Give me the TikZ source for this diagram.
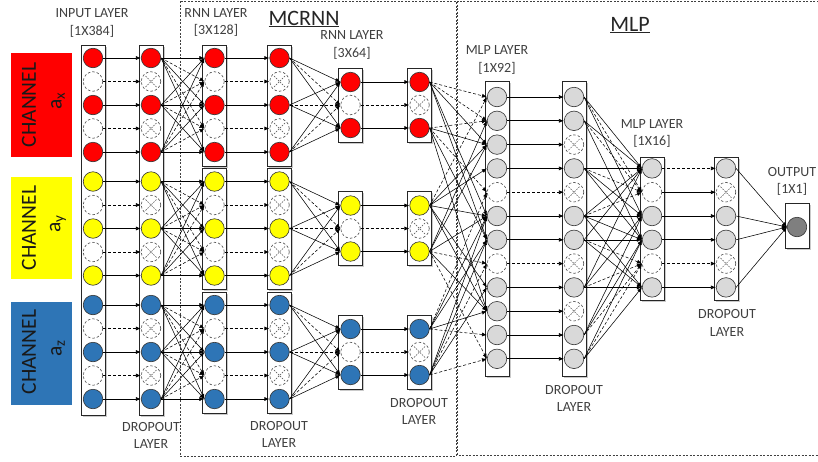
\documentclass[tikz,border=0pt]{standalone}
\usepackage{fontspec}
\setmainfont{Carlito}
\usetikzlibrary{arrows.meta,shadows,calc}
\definecolor{cred}{HTML}{FF0000}
\definecolor{cyel}{HTML}{FFFF00}
\definecolor{cblu}{HTML}{2E75B6}
\definecolor{cgry}{HTML}{D9D9D9}
\definecolor{cdk}{HTML}{7F7F7F}
\definecolor{ctxt}{HTML}{404040}
\tikzset{
 colbox/.style={draw=black!85, line width=0.8pt, fill=white, drop shadow={shadow xshift=1.5pt, shadow yshift=-1.5pt, opacity=0.35, fill=black!60}, minimum width=24pt, inner sep=0pt},
 neuron/.style={circle, draw=black!80, line width=0.6pt, minimum size=19.5pt, inner sep=0pt},
 offn/.style={circle, draw=black!70, line width=0.6pt, dash pattern=on 2.5pt off 2pt, minimum size=19.5pt, inner sep=0pt},
 xn/.style={offn, path picture={\draw[black!70, line width=0.5pt, dash pattern=on 1.6pt off 1.2pt] ($(path picture bounding box.center)+(-5.5,-5.5)$) -- ($(path picture bounding box.center)+(5.5,5.5)$) ($(path picture bounding box.center)+(-5.5,5.5)$) -- ($(path picture bounding box.center)+(5.5,-5.5)$);}},
 arr/.style={-{Latex[length=5pt,width=4pt]}, line width=0.7pt, black},
 mesh/.style={-{Latex[length=5pt,width=4pt]}, line width=0.55pt, black},
 dsh/.style={dash pattern=on 3pt off 2pt},
 lab/.style={text=ctxt, font=\fontsize{14}{17.5}\selectfont, align=center},
 frame/.style={draw=black!75, line width=0.8pt, dash pattern=on 2pt off 1.5pt},
 chtxt/.style={rotate=90, font=\fontsize{21.5}{24}\selectfont, text=black!90},
 chbox/.style={minimum width=61pt, inner sep=0pt},
}
\begin{document}
\begin{tikzpicture}[x=1pt,y=-1pt]
\useasboundingbox (0,0) rectangle (818,461);
% frames
\draw[frame] (180,1) rectangle (456,456);
\draw[frame] (822,1.5) -- (457.5,1.5) -- (457.5,455) -- (822,455);
\node[font=\fontsize{22}{24}\selectfont, text=black!85] (tmc) at (304,19) {\underline{MCRNN}};
\node[font=\fontsize{22}{24}\selectfont, text=black!85] (tmlp) at (630,25) {\underline{MLP}};
% channels
\node[chbox, fill=cred, minimum height=104pt] (chx) at (41.5,105) {};
\node[chbox, fill=cyel, minimum height=102pt] (chy) at (41.5,228) {};
\node[chbox, fill=cblu, minimum height=103pt] (chz) at (41.5,353.5) {};
\node[chtxt] (chxt) at (29,105) {CHANNEL};
\node[chtxt] (chxs) at (58,101) {a\textsubscript{x}};
\node[chtxt] (chyt) at (29,228) {CHANNEL};
\node[chtxt] (chys) at (58,224) {a\textsubscript{y}};
\node[chtxt] (chzt) at (29,352) {CHANNEL};
\node[chtxt] (chzs) at (58,348) {a\textsubscript{z}};
% labels
\node[lab] (lin) at (92,23) {INPUT LAYER\\{[1X384]}};
\node[lab] (lr1) at (216,22.5) {RNN LAYER\\{[3X128]}};
\node[lab] (lr2) at (352,45) {RNN LAYER\\{[3X64]}};
\node[lab] (lm1) at (497,60) {MLP LAYER\\{[1X92]}};
\node[lab] (lm2) at (652,133.5) {MLP LAYER\\{[1X16]}};
\node[lab] (lout) at (792,181.5) {OUTPUT\\{[1X1]}};
\node[lab] (ld1) at (151,435.5) {DROPOUT\\LAYER};
\node[lab] (ld2) at (279,434.5) {DROPOUT\\LAYER};
\node[lab] (ld3) at (419,411.5) {DROPOUT\\LAYER};
\node[lab] (ld4) at (574,398.5) {DROPOUT\\LAYER};
\node[lab] (ld5) at (727,323) {DROPOUT\\LAYER};
% column boxes
\node[colbox, minimum height=370pt] (bin) at (93,230) {};
\node[colbox, minimum height=370pt] (bd1) at (151,230) {};
\foreach \g/\m in {1/105,2/228.5,3/352} {
 \node[colbox, minimum height=121pt] (br1-\g) at (214.5,\m+0.5) {};
 \node[colbox, minimum height=121pt] (bd2-\g) at (279.5,\m+0.5) {};
 \node[colbox, minimum height=74pt] (br2-\g) at (350.5,\m) {};
 \node[colbox, minimum height=74pt] (bd3-\g) at (419.5,\m) {};
}
\node[colbox, minimum height=295pt] (bm1) at (497,228.5) {};
\node[colbox, minimum height=295pt] (bd4) at (574,228.5) {};
\node[colbox, minimum height=143pt] (bm2) at (652,228.5) {};
\node[colbox, minimum height=143pt] (bd5) at (726,228.5) {};
\node[colbox, minimum height=45pt] (bout) at (797,226) {};
% neurons of the three channels
\foreach \g/\c/\m in {1/cred/105,2/cyel/228.5,3/cblu/352} {
 \foreach \i in {1,...,5} {
  \pgfmathsetmacro\yy{\m+(\i-3)*23.5}
  \ifodd\i\relax
   \node[neuron,fill=\c] (in-\g-\i) at (93,\yy) {};
   \node[neuron,fill=\c] (d1-\g-\i) at (151,\yy) {};
   \node[neuron,fill=\c] (r1-\g-\i) at (214.5,\yy) {};
   \node[neuron,fill=\c] (d2-\g-\i) at (279.5,\yy) {};
  \else
   \node[offn] (in-\g-\i) at (93,\yy) {};
   \node[xn] (d1-\g-\i) at (151,\yy) {};
   \node[offn] (r1-\g-\i) at (214.5,\yy) {};
   \node[xn] (d2-\g-\i) at (279.5,\yy) {};
  \fi
 }
 \foreach \j in {1,2,3} {
  \pgfmathsetmacro\yy{\m+(\j-2)*23}
  \ifnum\j=2\relax
   \node[offn] (r2-\g-\j) at (350.5,\yy) {};
   \node[xn] (d3-\g-\j) at (419.5,\yy) {};
  \else
   \node[neuron,fill=\c] (r2-\g-\j) at (350.5,\yy) {};
   \node[neuron,fill=\c] (d3-\g-\j) at (419.5,\yy) {};
  \fi
 }
}
% MLP neurons
\foreach \k in {1,...,12} {
 \pgfmathsetmacro\yy{97+(\k-1)*23.8}
 \pgfmathtruncatemacro\ma{(\k==5)||(\k==8)}
 \pgfmathtruncatemacro\mb{(\k==3)||(\k==5)||(\k==8)||(\k==10)}
 \ifnum\ma=1\relax
  \node[offn] (m1-\k) at (497,\yy) {};
 \else
  \node[neuron,fill=cgry] (m1-\k) at (497,\yy) {};
 \fi
 \ifnum\mb=1\relax
  \node[xn] (d4-\k) at (574,\yy) {};
 \else
  \node[neuron,fill=cgry] (d4-\k) at (574,\yy) {};
 \fi
}
\foreach \l in {1,...,6} {
 \pgfmathsetmacro\yy{97+(\l+2)*23.8}
 \pgfmathtruncatemacro\ma{(\l==2)||(\l==5)}
 \ifnum\ma=1\relax
  \node[offn] (m2-\l) at (652,\yy) {};
  \node[xn] (d5-\l) at (726,\yy) {};
 \else
  \node[neuron,fill=cgry] (m2-\l) at (652,\yy) {};
  \node[neuron,fill=cgry] (d5-\l) at (726,\yy) {};
 \fi
}
\node[neuron, fill=cdk] (out) at (797,227) {};
% connectors in the channels
\foreach \g in {1,2,3} {
 \foreach \i in {1,...,5} {
  \ifodd\i\relax
   \draw[arr] (in-\g-\i.east) -- (d1-\g-\i.west);
   \draw[arr] (r1-\g-\i.east) -- (d2-\g-\i.west);
  \else
   \draw[arr,dsh] (in-\g-\i.east) -- (d1-\g-\i.west);
   \draw[arr,dsh] (r1-\g-\i.east) -- (d2-\g-\i.west);
  \fi
 }
 \foreach \s in {1,3,5} {
  \foreach \t in {1,...,5} {
   \ifodd\t\relax
    \draw[mesh] (d1-\g-\s.east) -- (r1-\g-\t.west);
   \else
    \draw[mesh,dsh] (d1-\g-\s.east) -- (r1-\g-\t.west);
   \fi
  }
  \foreach \t in {1,2,3} {
   \ifnum\t=2\relax
    \draw[mesh,dsh] (d2-\g-\s.east) -- (r2-\g-\t.west);
   \else
    \draw[mesh] (d2-\g-\s.east) -- (r2-\g-\t.west);
   \fi
  }
 }
 \draw[arr] (r2-\g-1.east) -- (d3-\g-1.west);
 \draw[arr,dsh] (r2-\g-2.east) -- (d3-\g-2.west);
 \draw[arr] (r2-\g-3.east) -- (d3-\g-3.west);
}
% MCRNN to MLP
\foreach \g/\j/\k/\st in {1/1/1/d,1/1/2/d,1/1/3/s,1/1/6/s,1/1/7/s,
  1/3/2/d,1/3/3/s,1/3/5/d,1/3/7/s,1/3/10/s,
  2/1/1/d,2/1/3/s,2/1/4/s,2/1/6/s,2/1/9/s,2/1/10/s,
  2/3/2/s,2/3/3/s,2/3/6/s,2/3/8/d,2/3/10/s,2/3/12/d,
  3/1/5/d,3/1/6/s,3/1/7/s,3/1/10/s,3/1/11/d,
  3/3/6/s,3/3/7/s,3/3/8/d,3/3/9/s,3/3/12/d} {
 \if s\st
  \draw[mesh] (d3-\g-\j.east) -- (m1-\k.west);
 \else
  \draw[mesh,dsh] (d3-\g-\j.east) -- (m1-\k.west);
 \fi
}
% MLP connectors
\foreach \k in {1,...,12} {
 \pgfmathtruncatemacro\ma{(\k==5)||(\k==8)}
 \ifnum\ma=1\relax
  \draw[arr,dsh] (m1-\k.east) -- (d4-\k.west);
 \else
  \draw[arr] (m1-\k.east) -- (d4-\k.west);
 \fi
}
\foreach \k/\l/\st in {1/1/s,1/2/d,1/3/s,
  2/1/s,2/2/d,2/4/s,
  4/1/s,4/2/d,4/3/s,4/4/s,
  6/1/s,6/2/d,6/3/s,6/4/s,6/6/s,
  7/1/s,7/4/s,7/5/d,7/6/s,
  9/1/s,9/3/s,9/5/d,9/6/s,
  11/3/s,11/4/s,11/5/d,
  12/4/s,12/5/d,12/6/s} {
 \if s\st
  \draw[mesh] (d4-\k.east) -- (m2-\l.west);
 \else
  \draw[mesh,dsh] (d4-\k.east) -- (m2-\l.west);
 \fi
}
\draw[arr,dsh] (m2-1.east) -- (d5-1.west);
\draw[arr] (m2-2.east) -- (d5-2.west);
\draw[arr] (m2-3.east) -- (d5-3.west);
\draw[arr] (m2-4.east) -- (d5-4.west);
\draw[arr,dsh] (m2-5.east) -- (d5-5.west);
\draw[arr] (m2-6.east) -- (d5-6.west);
\foreach \l in {1,3,4,6} {
 \draw[mesh] (d5-\l.east) -- (out.west);
}
\end{tikzpicture}
\end{document}
